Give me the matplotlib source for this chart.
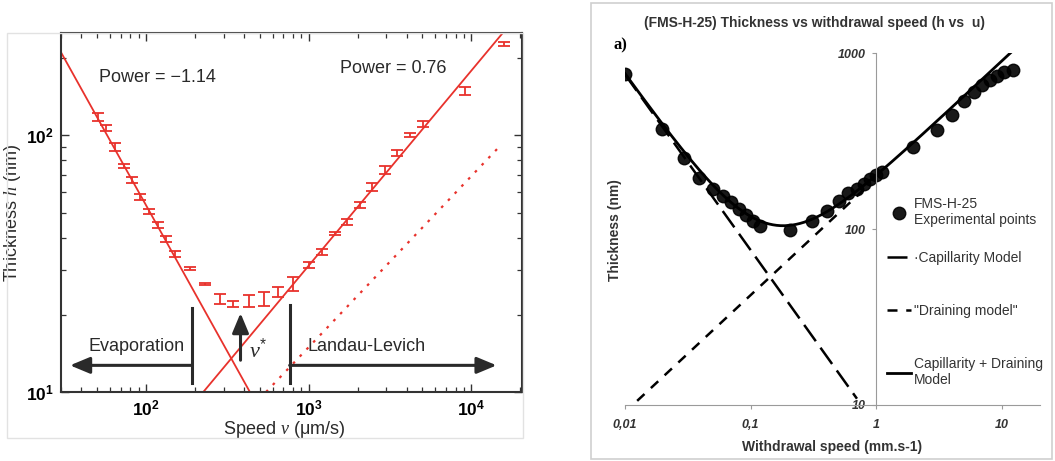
import numpy as np
import matplotlib
matplotlib.use("Agg")
import matplotlib.pyplot as plt
from matplotlib.patches import Rectangle
from matplotlib.ticker import FuncFormatter, FixedLocator, FixedFormatter, NullLocator

plt.rcParams['font.family'] = ['Liberation Sans', 'DejaVu Sans']
plt.rcParams['mathtext.fontset'] = 'custom'
plt.rcParams['mathtext.rm'] = 'Liberation Sans'
plt.rcParams['mathtext.it'] = 'Liberation Serif:italic'
plt.rcParams['mathtext.bf'] = 'Liberation Sans:bold'

# ---- left panel: thickness vs speed (um/s, nm) ----
speed = [51, 56.7, 64.6, 72.8, 81.9, 92.2, 104, 118, 131.8, 150,
         186.6, 230, 284, 344, 429, 531, 651, 803, 1005, 1203,
         1442, 1720, 2062, 2437, 2933, 3515, 4210, 5020, 9100, 15900]
thickness = [117.8, 106.7, 90, 76, 66.8, 57.5, 50.6, 44.9, 39.4, 34.4,
             30.3, 26.3, 23, 22.1, 22.6, 23, 24.5, 26.3, 31.2, 35,
             41.4, 46, 53.7, 63, 73.1, 85.3, 100, 111, 148.7, 227.5]
thickness_err = [4.2, 2.9, 3.2, 1.7, 1.8, 1.6, 1.1, 1.2, 1.1, 0.9,
                 0.3, 0.25, 1.0, 0.6, 1.2, 1.45, 1.1, 1.65, 0.85, 0.95,
                 0.55, 1.25, 1.45, 2.3, 2.6, 2.3, 1.8, 3.0, 5.4, 4.1]

# power-law fits: h = 10 nm * (v / v10) ** power
evap_power, evap_v10 = -1.14, 435.0
ll_power, ll_v10 = 0.76, 225.0
theory_power, theory_v10, theory_vmax = 2.0 / 3.0, 547.0, 15350.0

v_evap_limit = 192.0
v_ll_limit = 764.0
v_star = 381.0

# ---- right panel: thickness vs withdrawal speed (mm/s, nm) ----
u_exp = [0.01, 0.0198, 0.0297, 0.0388, 0.0499, 0.0599, 0.0693, 0.0807, 0.0912, 0.105,
         0.1186, 0.2056, 0.305, 0.407, 0.505, 0.598, 0.697, 0.797, 0.889, 1.0,
         1.11, 1.97, 3.02, 3.97, 5.01, 6.02, 6.96, 8.02, 9.06, 10.4, 12.1]
h_exp = [760, 373, 255, 196, 169, 154, 142, 130, 120, 111.5,
         104.4, 99.6, 111.5, 127, 144, 160, 170, 182, 192, 203,
         212, 294, 368, 448, 534, 603, 658, 703, 740, 783, 809]

cap_coeff, cap_power, cap_range = 7.6, -1.0, (0.01, 0.70)
drain_coeff, drain_power, drain_range = 196.0, 2.0 / 3.0, (0.0125, 0.85)
total_range = (0.01, 12.0)

x_ticks_r = [0.01, 0.1, 1, 10]
x_ticklabels_r = ['0,01', '0,1', '1', '10']
y_ticks_r = [10, 100, 1000]
y_ticklabels_r = ['10', '100', '1000']

RED = '#e8322c'
DARK = '#2a2a2a'

fig = plt.figure(figsize=(10.55, 4.61), dpi=100)

# panel frames
fig.add_artist(Rectangle((0.0064, 0.0499), 0.4894, 0.879, transform=fig.transFigure,
                         fill=False, edgecolor='#e2e2e2', lw=1))
fig.add_artist(Rectangle((0.5602, 0.0043), 0.437, 0.9885, transform=fig.transFigure,
                         fill=False, edgecolor='#cfcfcf', lw=1.2))

# ================= left panel =================
ax = fig.add_axes([0.0578, 0.1497, 0.4367, 0.7781])
ax.set_xscale('log')
ax.set_yscale('log')
ax.set_xlim(30, 2.04e4)
ax.set_ylim(10, 250)

v_line = np.geomspace(30, 2.04e4, 200)
ax.plot(v_line, 10 * (v_line / evap_v10) ** evap_power, color=RED, lw=1.3)
ax.plot(v_line, 10 * (v_line / ll_v10) ** ll_power, color=RED, lw=1.3)
v_th = np.geomspace(theory_v10, theory_vmax, 100)
ax.plot(v_th, 10 * (v_th / theory_v10) ** theory_power, color=RED, lw=1.6,
        ls=(0, (1.2, 3.2)))

ax.errorbar(speed, thickness, yerr=thickness_err, fmt='none', ecolor=RED,
            elinewidth=1.3, capsize=4.5, capthick=1.3)

# regime annotations
ax.plot([v_evap_limit, v_evap_limit], [10.8, 21.2], color=DARK, lw=2.2)
ax.plot([v_ll_limit, v_ll_limit], [10.8, 21.8], color=DARK, lw=2.2)
arrow_kw = dict(arrowstyle='-|>,head_length=1.2,head_width=0.5', color=DARK, lw=2.2,
                mutation_scale=10, shrinkA=0, shrinkB=0)
ax.annotate('', xy=(34.1, 12.7), xytext=(v_evap_limit, 12.7), arrowprops=arrow_kw)
ax.annotate('', xy=(14300, 12.7), xytext=(v_ll_limit, 12.7), arrowprops=arrow_kw)
ax.annotate('', xy=(v_star, 20.3), xytext=(v_star, 13.3), arrowprops=arrow_kw)

ax.text(87.5, 15.1, 'Evaporation', fontsize=13, color=DARK, ha='center', va='center')
ax.text(2265, 15.1, 'Landau-Levich', fontsize=13, color=DARK, ha='center', va='center')
ax.text(490, 14.5, r'$\nu^{*}$', fontsize=16, color=DARK, ha='center', va='center')
ax.text(117, 168, 'Power = \u22121.14', fontsize=13, color=DARK, ha='center', va='center')
ax.text(3310, 182, 'Power = 0.76', fontsize=13, color=DARK, ha='center', va='center')

for s in ax.spines.values():
    s.set_color('#333333')
    s.set_linewidth(1.5)
ax.tick_params(which='both', direction='in', top=True, right=True, color='#333333')
ax.tick_params(which='major', length=6, width=1, labelsize=12.5, pad=5)
ax.tick_params(which='minor', length=3.5, width=0.9)
log_fmt = FuncFormatter(lambda v, _: r'$\mathbf{10^{%d}}$' % round(np.log10(v)))
ax.xaxis.set_major_formatter(log_fmt)
ax.yaxis.set_major_formatter(log_fmt)
ax.xaxis.set_minor_formatter(FuncFormatter(lambda v, _: ''))
ax.yaxis.set_minor_formatter(FuncFormatter(lambda v, _: ''))

ax.set_xlabel(r'Speed $\nu$ ($\mathrm{\mu}$m/s)', fontsize=13, color=DARK)
ax.set_ylabel(r'Thickness $h$ (nm)', fontsize=13, color=DARK)
ax.xaxis.set_label_coords(0.485, -0.075)
ax.yaxis.set_label_coords(-0.082, 0.5)

# ================= right panel =================
ax2 = fig.add_axes([0.5924, 0.1215, 0.3934, 0.7625])
ax2.set_xscale('log')
ax2.set_yscale('log')
ax2.set_xlim(0.01, 20)
ax2.set_ylim(10, 1000)

u_cap = np.geomspace(*cap_range, 100)
ax2.plot(u_cap, cap_coeff * u_cap ** cap_power, color='black', lw=1.8,
         ls=(0, (8, 3.2)), label='\u00b7Capillarity Model')
u_dr = np.geomspace(*drain_range, 100)
ax2.plot(u_dr, drain_coeff * u_dr ** drain_power, color='black', lw=1.8,
         ls=(0, (4, 3.5)), label='"Draining model"')
u_tot = np.geomspace(*total_range, 200)
ax2.plot(u_tot, cap_coeff * u_tot ** cap_power + drain_coeff * u_tot ** drain_power,
         color='black', lw=2.0, label='Capillarity + Draining\nModel')
ax2.plot(u_exp, h_exp, 'o', color='black', ms=9, alpha=0.9,
         label='FMS-H-25\nExperimental points')

for side in ['top', 'right']:
    ax2.spines[side].set_visible(False)
ax2.spines['left'].set_position(('data', 1))
ax2.spines['left'].set_color('#9a9a9a')
ax2.spines['bottom'].set_color('#9a9a9a')
ax2.xaxis.set_major_locator(FixedLocator(x_ticks_r))
ax2.xaxis.set_major_formatter(FixedFormatter(x_ticklabels_r))
ax2.yaxis.set_major_locator(FixedLocator(y_ticks_r))
ax2.yaxis.set_major_formatter(FixedFormatter(y_ticklabels_r))
ax2.xaxis.set_minor_locator(NullLocator())
ax2.yaxis.set_minor_locator(NullLocator())
ax2.tick_params(axis='x', length=3, color='#9a9a9a', pad=7)
ax2.tick_params(axis='y', length=3, color='#9a9a9a', pad=5)
for lab in ax2.get_xticklabels() + ax2.get_yticklabels():
    lab.set_fontstyle('italic')
    lab.set_fontweight('bold')
    lab.set_fontsize(9)
    lab.set_color('#333333')

ax2.set_xlabel('Withdrawal speed (mm.s-1)', fontsize=10, fontweight='bold', color='#333333')
ax2.set_ylabel('Thickness (nm)', fontsize=10, fontweight='bold', color='#333333')
ax2.xaxis.set_label_coords(0.499, -0.1)
ax2.yaxis.set_label_coords(-0.008, 0.498)

handles, labels = ax2.get_legend_handles_labels()
leg_kw = dict(frameon=False, fontsize=10, handlelength=1.75, handletextpad=0.2,
              borderpad=0, borderaxespad=0, loc='upper left',
              bbox_transform=fig.transFigure, labelcolor='#333333')
leg1 = ax2.legend([handles[3]], [labels[3]], numpoints=1,
                  bbox_to_anchor=(887 / 1055, 1 - 197 / 461), **leg_kw)
ax2.add_artist(leg1)
ax2.legend(handles[:3], labels[:3], labelspacing=2.8,
           bbox_to_anchor=(887 / 1055, 1 - 251 / 461), **leg_kw)

fig.text(815 / 1055, 1 - 23 / 461, '(FMS-H-25) Thickness vs withdrawal speed (h vs  u)',
         fontsize=10, fontweight='bold', color='#333333', ha='center', va='center')
fig.text(620 / 1055, 1 - 45 / 461, 'a)', fontsize=12, fontweight='bold',
         family='Liberation Serif', ha='center', va='center')

fig.savefig('out.png', dpi=100)
